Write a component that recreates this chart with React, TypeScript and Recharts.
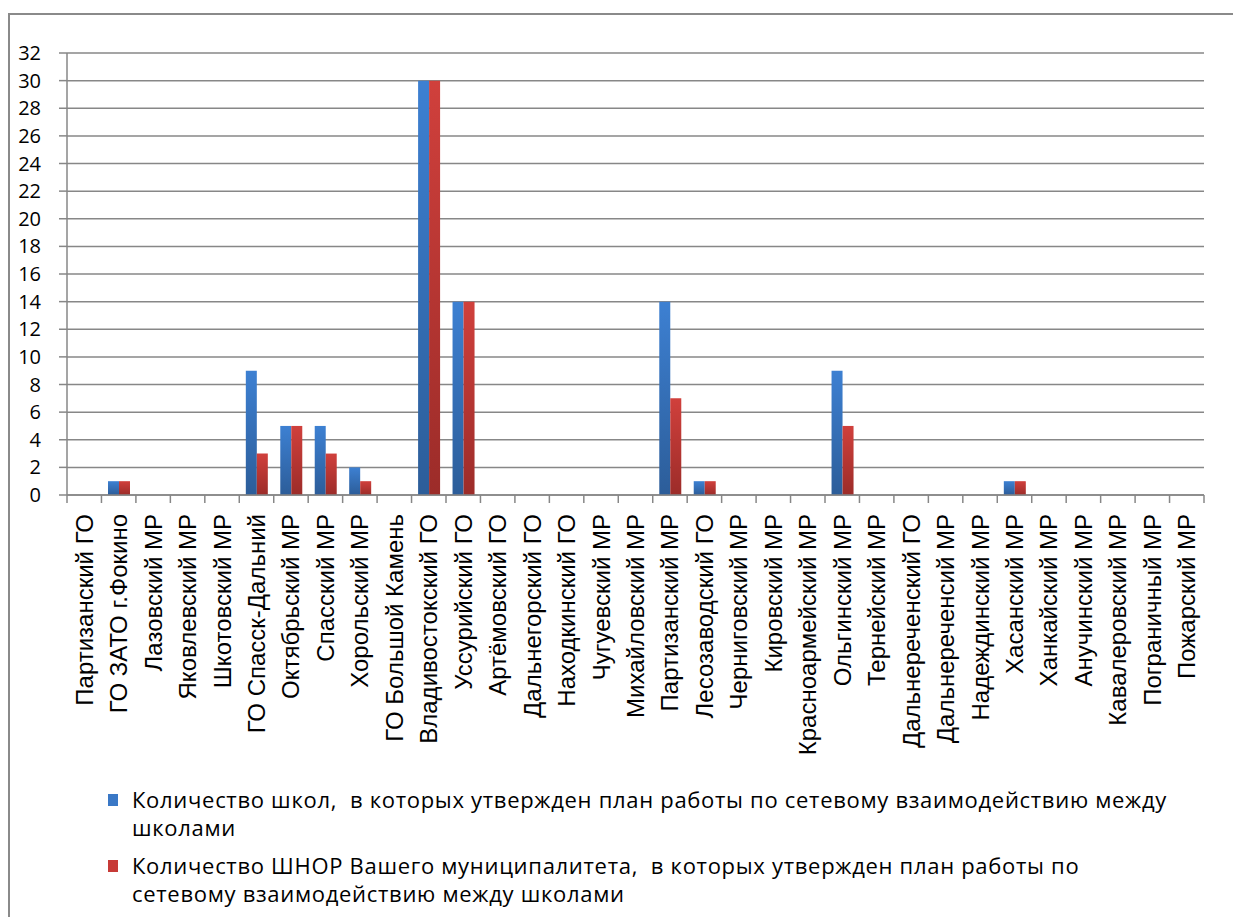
import React from "react";
import { BarChart, Bar, XAxis, YAxis, CartesianGrid } from "recharts";

const categories = [
  "Партизанский ГО",
  "ГО ЗАТО г.Фокино",
  "Лазовский МР",
  "Яковлевский МР",
  "Шкотовский МР",
  "ГО Спасск-Дальний",
  "Октябрьский МР",
  "Спасский МР",
  "Хорольский МР",
  "ГО Большой Камень",
  "Владивостокский ГО",
  "Уссурийский ГО",
  "Артёмовский ГО",
  "Дальнегорский ГО",
  "Находкинский ГО",
  "Чугуевский МР",
  "Михайловский МР",
  "Партизанский МР",
  "Лесозаводский ГО",
  "Черниговский МР",
  "Кировский МР",
  "Красноармейский МР",
  "Ольгинский МР",
  "Тернейский МР",
  "Дальнереченский ГО",
  "Дальнереченсий МР",
  "Надеждинский МР",
  "Хасанский МР",
  "Ханкайский МР",
  "Анучинский МР",
  "Кавалеровский МР",
  "Пограничный МР",
  "Пожарский МР",
];

const schools = [0, 1, 0, 0, 0, 9, 5, 5, 2, 0, 30, 14, 0, 0, 0, 0, 0, 14, 1, 0, 0, 0, 9, 0, 0, 0, 0, 1, 0, 0, 0, 0, 0];
const shnor = [0, 1, 0, 0, 0, 3, 5, 3, 1, 0, 30, 14, 0, 0, 0, 0, 0, 7, 1, 0, 0, 0, 5, 0, 0, 0, 0, 1, 0, 0, 0, 0, 0];

const yTicks = [0, 2, 4, 6, 8, 10, 12, 14, 16, 18, 20, 22, 24, 26, 28, 30, 32];

const seriesNames = [
  "Количество школ,  в которых утвержден план работы по сетевому взаимодействию между\nшколами",
  "Количество ШНОР Вашего муниципалитета,  в которых утвержден план работы по\nсетевому взаимодействию между школами",
];
const seriesColors = ["#3a78c6", "#c73a37"];

const data = categories.map((name, i) => ({ name, a: schools[i], b: shnor[i] }));

const GRID = "#878787";

// category label plus the tick marks at the band edges (Excel style)
function CatTick({ x, y, payload, index, width }: any) {
  const half = width / categories.length / 2;
  const last = index === categories.length - 1;
  return (
    <g>
      <line x1={x - half} x2={x - half} y1={y} y2={y + 8} stroke={GRID} strokeWidth={1.5} />
      {last && <line x1={x + half} x2={x + half} y1={y} y2={y + 8} stroke={GRID} strokeWidth={1.5} />}
      <text
        transform={`translate(${x},${y + 19}) rotate(-90)`}
        textAnchor="end"
        dominantBaseline="central"
        fontFamily="'Liberation Sans', Arial, sans-serif"
        fontSize={24}
        fill="#000"
      >
        {payload.value}
      </text>
    </g>
  );
}

function LegendBox() {
  return (
    <div
      style={{
        position: "absolute",
        left: 98,
        top: 770,
        fontFamily: "'Open Sans', sans-serif",
        fontSize: 22,
        letterSpacing: 0.7,
        color: "#000",
        lineHeight: "28px",
        whiteSpace: "nowrap",
      }}
    >
      {seriesNames.map((n, i) => (
        <div key={i} style={{ display: "flex", alignItems: "flex-start", marginBottom: 10 }}>
          <span style={{ width: 10, height: 12, background: seriesColors[i], marginTop: 9, marginRight: 14, flexShrink: 0 }} />
          <span style={{ whiteSpace: "pre" }}>{n}</span>
        </div>
      ))}
    </div>
  );
}

export default function App() {
  return (
    <div
      style={{
        position: "fixed",
        left: 8,
        top: 13,
        width: 1300,
        height: 1000,
        borderTop: "2px solid #8a8a8a",
        borderLeft: "2px solid #8a8a8a",
        background: "#fff",
      }}
    >
      <BarChart
        width={1225}
        height={758}
        data={data}
        margin={{ top: 38, right: 31, left: 0, bottom: 0 }}
        barCategoryGap="19%"
        barGap={0}
      >
        <defs>
          <linearGradient id="gBlue" x1="0" y1="0" x2="0" y2="1">
            <stop offset="0%" stopColor="#3d80d2" />
            <stop offset="100%" stopColor="#2c5d99" />
          </linearGradient>
          <linearGradient id="gRed" x1="0" y1="0" x2="0" y2="1">
            <stop offset="0%" stopColor="#d0403c" />
            <stop offset="100%" stopColor="#9c2c29" />
          </linearGradient>
        </defs>
        <CartesianGrid vertical={false} stroke={GRID} strokeWidth={1.5} />
        <XAxis
          dataKey="name"
          interval={0}
          axisLine={{ stroke: GRID, strokeWidth: 1.5 }}
          tickLine={false}
          tickSize={0}
          tickMargin={0}
          tick={<CatTick />}
          height={278}
        />
        <YAxis
          domain={[0, 32]}
          ticks={yTicks}
          interval={0}
          width={57}
          tickSize={8}
          tickMargin={18}
          tickLine={{ stroke: GRID, strokeWidth: 1.5 }}
          axisLine={{ stroke: GRID, strokeWidth: 1.5 }}
          tick={{ fill: "#000", fontSize: 20, fontFamily: "'Open Sans', sans-serif" }}
        />
        <Bar dataKey="a" name={seriesNames[0]} fill="url(#gBlue)" isAnimationActive={false} />
        <Bar dataKey="b" name={seriesNames[1]} fill="url(#gRed)" isAnimationActive={false} />
      </BarChart>
      <LegendBox />
    </div>
  );
}
